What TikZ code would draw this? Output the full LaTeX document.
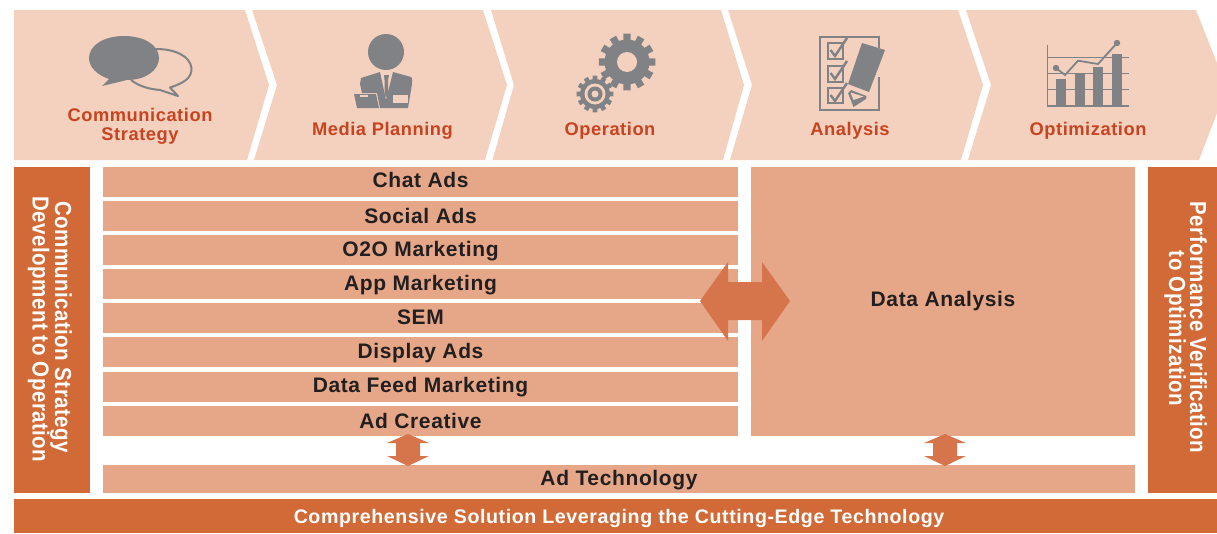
\documentclass[tikz,border=0pt]{standalone}
\usepackage{fontspec}
\setmainfont{Liberation Sans}[LetterSpace=3]
\newfontfamily\sidefont{Liberation Sans}[LetterSpace=2.2]
\definecolor{chev}{HTML}{F4D0BE}
\definecolor{bar}{HTML}{E6A788}
\definecolor{deep}{HTML}{D26A38}
\definecolor{arrowc}{HTML}{D6744B}
\definecolor{redt}{HTML}{C8431F}
\definecolor{ink}{HTML}{231F20}
\definecolor{icon}{HTML}{808285}
\tikzset{
  boxbase/.style={inner sep=0pt,outer sep=0pt},
  barbox/.style={boxbase,fill=bar,anchor=north west,minimum width=#1,minimum height=30pt},
  deepbox/.style={boxbase,fill=deep,anchor=north west},
  txt/.style={inner sep=0pt,outer sep=0pt,anchor=base,font=\fontsize{#1}{#1}\selectfont\bfseries},
  label/.style={txt=18.3,text=redt},
  bartext/.style={txt=21,text=ink},
  sidetext/.style={inner sep=0pt,outer sep=0pt,anchor=base,font=\sidefont\fontsize{20.5}{20.5}\selectfont\bfseries,text=white,rotate=-90},
  chevron/.style={fill=chev},
  bigarrow/.style={fill=arrowc},
  ico/.style={fill=icon,draw=none},
  icoline/.style={draw=icon,line width=2pt,fill=none},
}
\newcommand{\gearshape}[5]{% cx cy outer root teeth
  \foreach \k in {1,...,#5}{
    \pgfmathsetmacro{\a}{360*\k/#5}
    \pgfmathsetmacro{\w}{180/#5*0.62}
    \fill[icon] ({#1+(#4-1)*cos(\a-\w)},{#2+(#4-1)*sin(\a-\w)}) -- ({#1+#3*cos(\a-\w*0.8)},{#2+#3*sin(\a-\w*0.8)}) -- ({#1+#3*cos(\a+\w*0.8)},{#2+#3*sin(\a+\w*0.8)}) -- ({#1+(#4-1)*cos(\a+\w)},{#2+(#4-1)*sin(\a+\w)}) -- cycle;
  }
  \fill[icon] (#1,#2) circle[radius=#4];
}
\newcommand{\tallline}[1]{\scalebox{1}[1.13]{#1}}
\begin{document}
\begin{tikzpicture}[x=1pt,y=-1pt]
\useasboundingbox (0,0) rectangle (1217,533);
% chevrons
\fill[chevron] (14,10) -- (245,10) -- (269,85) -- (247,160) -- (14,160) -- cycle;
\fill[chevron] (252,10) -- (483,10) -- (507,85) -- (485,160) -- (254,160) -- (277,85) -- cycle;
\fill[chevron] (491,10) -- (721,10) -- (744,85) -- (723,160) -- (492.5,160) -- (514,85) -- cycle;
\fill[chevron] (728,10) -- (958,10) -- (983,85) -- (961,160) -- (730,160) -- (752,85) -- cycle;
\fill[chevron] (966,10) -- (1196,10) -- (1217,63) -- (1217,113) -- (1199,160) -- (968,160) -- (991,85) -- cycle;
% icon: speech bubbles
\draw[icoline,line join=round] (131,80) .. controls (140,87) and (150,89) .. (160,90) -- (178,96) -- (170,87.5) .. controls (184,83) and (192,78) .. (191.5,68) .. controls (190,56) and (175,49) .. (156,49);
\fill[icon] (124,36) .. controls (103,36) and (89,46) .. (89,58) .. controls (89,67) and (97,75) .. (109,79) -- (102,86) -- (127,80) .. controls (146,80) and (159,70) .. (159,58) .. controls (159,45) and (144,36) .. (124,36) -- cycle;
% icon: person
\fill[icon] (386,52) circle[radius=18];
\fill[ico] (361,78) -- (380,72) -- (386,100) -- (393,72) -- (411,77) .. controls (412.5,78) and (412.5,82) .. (412,84) -- (408,108) -- (380,108) -- (377,93) -- (362,93) -- (360,84) -- cycle;
\fill[ico] (384,75) -- (389,75) -- (388,80) -- (388,93) -- (386,98) -- (384.5,93) -- (384.5,80) -- cycle;
\fill[ico] (354,94) -- (376,94) -- (379,108) -- (357,108) -- cycle;
\fill[chev] (393,95) rectangle (408,103);
\fill[chev] (360,95) rectangle (368,97);
% icon: gears
\gearshape{627}{62}{28.5}{22.5}{12}
\fill[chev] (627,62) circle[radius=10];
\gearshape{595}{94}{18.5}{15}{12}
\fill[chev] (595,94) circle[radius=10.5];
\fill[icon] (595,94) circle[radius=7.5];
\fill[chev] (595,94) circle[radius=3.5];
% icon: checklist
\draw[icon,line width=2pt] (820,37) rectangle (878.5,110);
\foreach \y/\h in {43/16,66/16,88/15}{
  \draw[icon,line width=2pt] (827.5,\y) rectangle (843,\y+\h);
  \draw[icon,line width=2.4pt,line join=miter] (830.5,\y+7) -- (835,\y+13) -- (847,\y-5);
}
\fill[chev] (873,48) rectangle (884,77);
\fill[icon] (862,43) -- (885,50) -- (869,92) -- (848,84) -- cycle;
\fill[icon] (848,93) -- (853.5,107) -- (866,99) -- (866.5,96) -- (851,90) -- cycle;
\fill[chev] (850.5,92.5) -- (853.5,100) -- (863.5,96.5) -- cycle;
% icon: chart
\draw[icon,line width=1.2pt] (1047.7,45) -- (1047.7,106) -- (1129,106);
\foreach \y in {57,73,89}{\draw[icon,line width=1pt] (1047.7,\y) -- (1129,\y);}
\fill[icon] (1055.7,79) rectangle (1066,106);
\fill[icon] (1075,73) rectangle (1085,106);
\fill[icon] (1092.7,67) rectangle (1103,106);
\fill[icon] (1111.7,54) rectangle (1122,106);
\draw[icon,line width=1.8pt] (1056,68) -- (1065,75) -- (1078,60.7) -- (1098,64) -- (1117,43);
\fill[icon] (1056,68) circle[radius=3.2];
\fill[icon] (1117,43) circle[radius=3.2];
% chevron labels
\node[label] (l1a) at (140,121) {Communication};
\node[label] (l1b) at (140,140) {Strategy};
\node[label] (l2) at (382.5,135) {Media Planning};
\node[label] (l3) at (610,135) {Operation};
\node[label] (l4) at (850,135) {Analysis};
\node[label] (l5) at (1088,135) {Optimization};
% boxes
\node[deepbox,minimum width=76pt,minimum height=326pt] (left) at (14,167) {};
\node[deepbox,minimum width=69pt,minimum height=326pt] (right) at (1148,167) {};
\node[sidetext] (sa) at (55,327) {\tallline{Communication Strategy}};
\node[sidetext] (sb) at (32.5,329.5) {\tallline{Development to Operation}};
\node[sidetext] (sc) at (1190,327.5) {\tallline{Performance Verification}};
\node[sidetext] (sd) at (1169,328.5) {\tallline{to Optimization}};
\node[barbox=635pt] (b1) at (103,167) {};
\node[barbox=635pt] (b2) at (103,201) {};
\node[barbox=635pt] (b3) at (103,235) {};
\node[barbox=635pt] (b4) at (103,269) {};
\node[barbox=635pt] (b5) at (103,303) {};
\node[barbox=635pt] (b6) at (103,337) {};
\node[barbox=635pt] (b7) at (103,372) {};
\node[barbox=635pt] (b8) at (103,406) {};
\node[barbox=384pt,minimum height=269pt] (da) at (751,167) {};
\node[barbox=1032pt,minimum height=28pt] (tech) at (103,465) {};
\node[deepbox,minimum width=1203pt,minimum height=34pt] (base) at (14,499) {};
% arrows
\fill[bigarrow] (700,301) -- (728,262) -- (728,282) -- (762,282) -- (762,262) -- (790,301) -- (762,341) -- (762,320) -- (728,320) -- (728,341) -- cycle;
\foreach \c in {408,945}{
  \fill[bigarrow] (\c,434) -- (\c+21,443) -- (\c+12,443) -- (\c+12,456) -- (\c+21,456) -- (\c,466) -- (\c-21,456) -- (\c-12,456) -- (\c-12,443) -- (\c-21,443) -- cycle;
}
% bar texts
\node[bartext] (t1) at (420.5,187) {Chat Ads};
\node[bartext] (t2) at (420.5,223) {Social Ads};
\node[bartext] (t3) at (420.5,256) {O2O Marketing};
\node[bartext] (t4) at (420.5,290) {App Marketing};
\node[bartext] (t5) at (420.5,324) {SEM};
\node[bartext] (t6) at (420.5,358) {Display Ads};
\node[bartext] (t7) at (420.5,392) {Data Feed Marketing};
\node[bartext] (t8) at (420.5,428) {Ad Creative};
\node[bartext] (t9) at (943,306) {Data Analysis};
\node[bartext] (t10) at (619,485) {Ad Technology};
\node[txt=19.6,text=white] (t11) at (619,523) {Comprehensive Solution Leveraging the Cutting-Edge Technology};
\end{tikzpicture}
\end{document}
